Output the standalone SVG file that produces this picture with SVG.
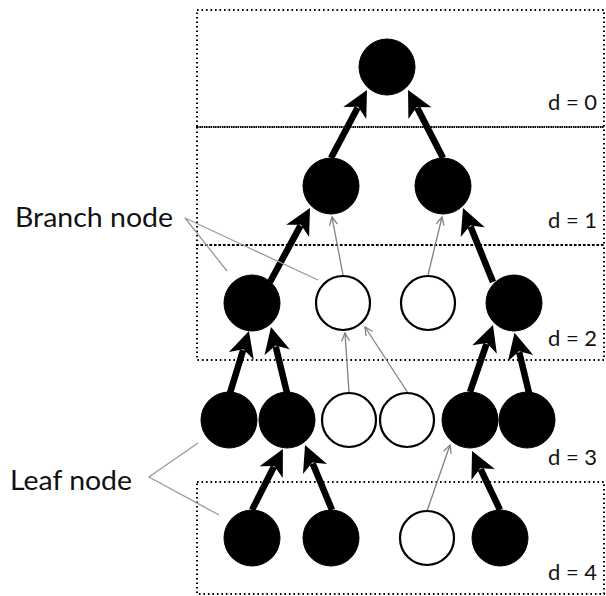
<svg xmlns="http://www.w3.org/2000/svg" width="606" height="596" viewBox="0 0 606 596">
<style>
.lvl{fill:none;stroke:#000;stroke-width:2;stroke-dasharray:1.6 2.9}
.full{fill:#000;stroke:#000;stroke-width:1}
.open{fill:#fff;stroke:#000;stroke-width:2.2}
.thick{stroke:#000;stroke-width:6.5;fill:none;marker-end:url(#big)}
.thin{stroke:#808080;stroke-width:1.3;fill:none;marker-end:url(#small)}
.ptr{stroke:#9a9a9a;stroke-width:1.3;fill:none}
.lbl{font-family:"Lato","Liberation Sans",sans-serif;font-size:26px;fill:#111}
.dl{font-family:"Lato","Liberation Sans",sans-serif;font-size:21px;fill:#111}
</style>
<defs>
<marker id="big" markerUnits="userSpaceOnUse" viewBox="-10 -15 32 30" markerWidth="32" markerHeight="30" refX="0" refY="0" orient="auto" overflow="visible">
<path d="M20,0 L-6,-13 L1,0 L-6,13 Z" fill="#000"/>
</marker>
<marker id="small" markerUnits="userSpaceOnUse" viewBox="-10 -6 12 12" markerWidth="12" markerHeight="12" refX="0" refY="0" orient="auto" overflow="visible">
<path d="M-8,-4 L0,0 L-8,4" fill="none" stroke="#808080" stroke-width="1.3"/>
</marker>
</defs>
<g id="levels">
<rect class="lvl" x="197" y="10" width="407" height="117"/>
<rect class="lvl" x="197" y="127" width="407" height="118"/>
<rect class="lvl" x="197" y="245" width="407" height="115"/>
<rect class="lvl" x="197" y="482" width="407" height="112"/>
<text class="dl" x="548" y="110" textLength="49" lengthAdjust="spacingAndGlyphs">d = 0</text>
<text class="dl" x="548" y="228" textLength="49" lengthAdjust="spacingAndGlyphs">d = 1</text>
<text class="dl" x="548" y="346" textLength="49" lengthAdjust="spacingAndGlyphs">d = 2</text>
<text class="dl" x="548" y="465" textLength="49" lengthAdjust="spacingAndGlyphs">d = 3</text>
<text class="dl" x="548" y="580" textLength="49" lengthAdjust="spacingAndGlyphs">d = 4</text>
</g>
<g id="connectors">
<line class="thick" x1="331" y1="158" x2="357.6" y2="107.7"/>
<line class="thick" x1="443" y1="158" x2="417.2" y2="107.8"/>
<line class="thick" x1="270" y1="282" x2="300.5" y2="225.6"/>
<line class="thick" x1="493" y1="282" x2="470.5" y2="226.5"/>
<line class="thick" x1="230" y1="393" x2="243.1" y2="350.1"/>
<line class="thick" x1="287" y1="393" x2="275.7" y2="346.4"/>
<line class="thick" x1="470" y1="392" x2="486.5" y2="343.9"/>
<line class="thick" x1="529" y1="393" x2="519.2" y2="352.3"/>
<line class="thick" x1="252" y1="510" x2="273.9" y2="466.8"/>
<line class="thick" x1="332" y1="510" x2="312.7" y2="463.5"/>
<line class="thick" x1="500" y1="510" x2="480.6" y2="469.1"/>
<line class="thin" x1="343" y1="275" x2="332" y2="217"/>
<line class="thin" x1="428" y1="275" x2="442" y2="217"/>
<line class="thin" x1="349" y1="392" x2="345" y2="333"/>
<line class="thin" x1="408" y1="393" x2="365" y2="327"/>
<line class="thin" x1="427" y1="511" x2="450" y2="445"/>
<polyline class="ptr" points="227,271 185,218 318,280"/>
<polyline class="ptr" points="198,443 149,477 219,515"/>
</g>
<g id="n-root"><circle class="full" cx="387" cy="67" r="28"/></g>
<g id="n-1a"><circle class="full" cx="331" cy="186" r="28"/></g>
<g id="n-1b"><circle class="full" cx="443" cy="186" r="28"/></g>
<g id="n-2a"><circle class="full" cx="252" cy="303" r="28"/></g>
<g id="n-2b"><circle class="open" cx="343" cy="303" r="27"/></g>
<g id="n-2c"><circle class="open" cx="428" cy="303" r="27"/></g>
<g id="n-2d"><circle class="full" cx="514" cy="303" r="28"/></g>
<g id="n-3a"><circle class="full" cx="229" cy="420" r="28"/></g>
<g id="n-3b"><circle class="full" cx="287" cy="420" r="28"/></g>
<g id="n-3c"><circle class="open" cx="349" cy="420" r="27"/></g>
<g id="n-3d"><circle class="open" cx="407" cy="420" r="27"/></g>
<g id="n-3e"><circle class="full" cx="470" cy="420" r="28"/></g>
<g id="n-3f"><circle class="full" cx="527" cy="420" r="28"/></g>
<g id="n-4a"><circle class="full" cx="252" cy="538" r="28"/></g>
<g id="n-4b"><circle class="full" cx="331" cy="538" r="28"/></g>
<g id="n-4c"><circle class="open" cx="427" cy="538" r="27"/></g>
<g id="n-4d"><circle class="full" cx="500" cy="538" r="28"/></g>
<g id="labels">
<text class="lbl" x="15" y="227" textLength="158" lengthAdjust="spacingAndGlyphs">Branch node</text>
<text class="lbl" x="10" y="490" textLength="122" lengthAdjust="spacingAndGlyphs">Leaf node</text>
</g>
</svg>
